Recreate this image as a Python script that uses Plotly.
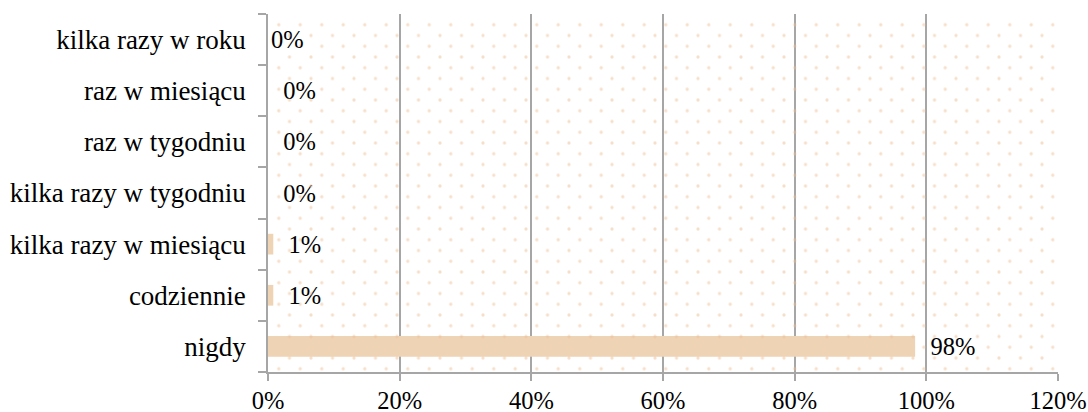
import plotly.graph_objects as go

categories = ["nigdy", "codziennie", "kilka razy w miesiącu", "kilka razy w tygodniu",
              "raz w tygodniu", "raz w miesiącu", "kilka razy w roku"]
values = [98.3, 0.8, 0.8, 0.0, 0.0, 0.0, 0.0]
x_ticks = [0, 20, 40, 60, 80, 100, 120]
x_tick_labels = ["0%", "20%", "40%", "60%", "80%", "100%", "120%"]

NB = "\u00a0"
labels = [(NB * 2 if c != "kilka razy w roku" else "") + f"{v:.0f}%" for c, v in zip(categories, values)]

FONT = "Liberation Serif, Times New Roman, serif"
GRID = "#A6A6A6"
BAR = "#EED3B5"
DOT = "#EDBF94"

W, H = 1088, 412
ML, MR, MT, MB = 268, 30, 14, 40
PW, PH = W - ML - MR, H - MT - MB
TILE = 21.5
OFF = TILE / 2

fig = go.Figure()

pat = dict(shape=".", fgcolor=DOT, bgcolor="rgba(0,0,0,0)", size=TILE, solidity=0.018, fillmode="overlay")

# dotted plot-area background: two offset dot lattices -> staggered pattern
fig.add_trace(go.Bar(
    x=[1], y=[0.5], width=[1], orientation="h", xaxis="x", yaxis="y",
    marker=dict(color="rgba(0,0,0,0)", line=dict(width=0), pattern=pat),
    hoverinfo="skip", showlegend=False,
))
fig.add_trace(go.Bar(
    x=[1], y=[0.5], width=[1], orientation="h", xaxis="x3", yaxis="y3",
    marker=dict(color="rgba(0,0,0,0)", line=dict(width=0), pattern=pat),
    hoverinfo="skip", showlegend=False,
))

fig.add_trace(go.Bar(
    x=values, y=categories, orientation="h",
    xaxis="x2", yaxis="y2",
    marker=dict(color=BAR, line=dict(width=0)),
    text=labels, textposition="outside", cliponaxis=False, constraintext="none",
    textfont=dict(family=FONT, size=24.5, color="black"),
    showlegend=False,
))

hidden = dict(range=[0, 1], visible=False, fixedrange=True, automargin=False)
fig.update_layout(
    width=W, height=H,
    margin=dict(l=ML, r=MR, t=MT, b=MB, autoexpand=False),
    paper_bgcolor="white", plot_bgcolor="rgba(0,0,0,0)",
    bargap=0.595,
    font=dict(family=FONT, size=24, color="black"),
    xaxis=dict(**hidden, domain=[0, 1]),
    yaxis=dict(**hidden, domain=[0, 1]),
    xaxis3=dict(**hidden, domain=[OFF / PW, 1], anchor="y3"),
    yaxis3=dict(**hidden, domain=[0, 1 - OFF / PH], anchor="x3"),
    xaxis2=dict(overlaying="x", range=[0, 120], tickvals=x_ticks, ticktext=x_tick_labels,
                showgrid=True, gridcolor=GRID, gridwidth=1.5,
                showline=True, linecolor=GRID, linewidth=1.5,
                ticks="outside", ticklen=7, tickcolor=GRID, tickwidth=1.5,
                ticklabelstandoff=-1,
                tickfont=dict(family=FONT, size=24.5, color="black"),
                zeroline=False, anchor="y2", side="bottom", automargin=False),
    yaxis2=dict(overlaying="y", type="category", categoryorder="array", categoryarray=categories,
                showline=True, linecolor=GRID, linewidth=1.5,
                ticks="outside", ticklen=8, tickcolor=GRID, tickwidth=1.5,
                tickson="boundaries", showgrid=False, ticklabelstandoff=15,
                tickfont=dict(family=FONT, size=27, color="black"),
                anchor="x2", side="left", automargin=False),
)

fig.write_html("out.html", config={"displayModeBar": False},
               post_script="document.body.style.margin='0';")
